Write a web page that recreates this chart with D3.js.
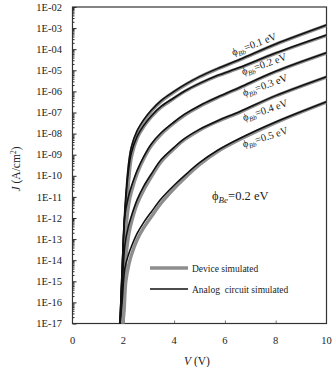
<!DOCTYPE html>
<html>
<head>
<meta charset="utf-8">
<script src="https://cdn.jsdelivr.net/npm/d3@7"></script>
<style>
  body { margin: 0; background: #fff; }
  svg text, svg tspan { font-family: "Liberation Serif", "Times New Roman", serif; fill: #222; }
</style>
</head>
<body>
<div class="graphic"></div>
<script>
// voltage grid (V) shared by the curves
var vAnalog = [1.87, 1.95, 2.06, 2.2, 2.32, 2.55, 2.8, 3.11, 3.5, 4.0, 4.42, 5.0, 5.7, 6.6, 8.0, 10];
var vDevice = [1.98, 2.03, 2.1, 2.22, 2.32, 2.55, 2.8, 3.11, 3.5, 4.0, 4.42, 5.0, 5.7, 6.6, 8.0, 10];

// log10 J (A/cm2), analog circuit simulated
var analog01 = [-17, -14.5, -11.6, -9.5, -8.62, -7.85, -7.35, -6.88, -6.42, -6.0, -5.68, -5.3, -4.92, -4.48, -3.75, -2.85];
var analog02 = [-17, -14.6, -11.8, -9.8, -8.9, -8.12, -7.62, -7.15, -6.7, -6.3, -5.98, -5.62, -5.25, -4.86, -4.18, -3.33];
var analog03 = [-17, -14.8, -11.9, -11.0, -10.5, -9.73, -9.1, -8.48, -7.95, -7.45, -7.08, -6.68, -6.28, -5.8, -5.05, -4.17];
var analog04 = [-17, -15.5, -13.3, -12.4, -11.9, -11.12, -10.5, -9.9, -9.22, -8.65, -8.23, -7.8, -7.4, -6.95, -6.2, -5.3];
var analog05 = [-17, -16.0, -14.4, -13.75, -13.35, -12.72, -12.22, -11.7, -11.08, -10.45, -9.98, -9.38, -8.8, -8.22, -7.45, -6.49];

// log10 J (A/cm2), device simulated
var device01 = [-17, -14.6, -12.0, -9.8, -8.8, -7.95, -7.42, -6.93, -6.46, -6.03, -5.71, -5.32, -4.94, -4.5, -3.77, -2.87];
var device02 = [-17, -14.8, -12.2, -10.1, -9.1, -8.2, -7.68, -7.2, -6.74, -6.33, -6.0, -5.64, -5.27, -4.88, -4.2, -3.35];
var device03 = [-17, -15.2, -12.6, -11.3, -10.75, -9.88, -9.2, -8.56, -8.02, -7.5, -7.12, -6.71, -6.3, -5.82, -5.07, -4.19];
var device04 = [-17, -15.8, -13.9, -12.75, -12.2, -11.32, -10.68, -10.04, -9.32, -8.72, -8.28, -7.84, -7.43, -6.98, -6.22, -5.32];
var device05 = [-17, -16.4, -15.0, -14.2, -13.75, -13.02, -12.47, -11.93, -11.28, -10.6, -10.1, -9.47, -8.86, -8.27, -7.48, -6.51];

var barriers = ['0.1', '0.2', '0.3', '0.4', '0.5'];
var yTickExps = [-2, -3, -4, -5, -6, -7, -8, -9, -10, -11, -12, -13, -14, -15, -16, -17];
var xTicks = [0, 2, 4, 6, 8, 10];

var width = 334, height = 367;
var plot = { left: 72.5, right: 326.5, top: 7, bottom: 323.5 };

var svg = d3.select('.graphic').append('svg').attr('width', width).attr('height', height);

var x = d3.scaleLinear().domain([0, 10]).range([plot.left, plot.right]);
var y = d3.scaleLog().domain([1e-17, 1e-2]).range([plot.bottom, plot.top]);

svg.append('clipPath').attr('id', 'clip')
	.append('rect')
	.attr('x', plot.left).attr('y', plot.top)
	.attr('width', plot.right - plot.left).attr('height', plot.bottom - plot.top);

// y axis: major ticks with labels, minor ticks inside
var yAxis = d3.axisRight(y)
	.tickValues(yTickExps.map(function (e) { return Math.pow(10, e); }))
	.tickSize(4)
	.tickFormat('');
svg.append('g').attr('class', 'y-axis')
	.attr('transform', 'translate(' + plot.left + ',0)')
	.call(yAxis)
	.call(function (g) { g.select('.domain').remove(); });

var minor = [];
yTickExps.forEach(function (e) {
	if (e === -2) return;
	for (var m = 2; m < 10; m++) minor.push(m * Math.pow(10, e));
});
svg.append('g').attr('class', 'y-minor')
	.attr('transform', 'translate(' + plot.left + ',0)')
	.call(d3.axisRight(y).tickValues(minor).tickSize(2).tickFormat(''))
	.call(function (g) { g.select('.domain').remove(); });

svg.selectAll('.y-axis line, .y-minor line').attr('stroke', '#222');

svg.append('g').selectAll('text')
	.data(yTickExps)
	.enter().append('text')
	.attr('x', 62)
	.attr('y', function (d) { return y(Math.pow(10, d)) + 3.6; })
	.attr('text-anchor', 'end')
	.style('font-size', '10.5px')
	.text(function (d) { return '1E-' + (-d < 10 ? '0' : '') + (-d); });

// x axis: small ticks pointing up, labels below
svg.append('g').attr('class', 'x-axis')
	.attr('transform', 'translate(0,' + plot.bottom + ')')
	.call(d3.axisTop(x).tickValues(xTicks.slice(1, -1)).tickSize(3).tickFormat(''))
	.call(function (g) { g.select('.domain').remove(); })
	.selectAll('line').attr('stroke', '#777');

svg.append('g').selectAll('text')
	.data(xTicks)
	.enter().append('text')
	.attr('x', function (d) { return x(d); })
	.attr('y', 344)
	.attr('text-anchor', 'middle')
	.style('font-size', '10.5px')
	.text(function (d) { return d; });

// frame
svg.append('rect')
	.attr('x', plot.left).attr('y', plot.top)
	.attr('width', plot.right - plot.left).attr('height', plot.bottom - plot.top)
	.attr('fill', 'none').attr('stroke', '#333').attr('stroke-width', 1.2);

// curves
var line = d3.line()
	.x(function (d) { return x(d[0]); })
	.y(function (d) { return y(Math.pow(10, d[1])); })
	.curve(d3.curveCatmullRom.alpha(0.5));

var deviceSets = [device01, device02, device03, device04, device05];
var analogSets = [analog01, analog02, analog03, analog04, analog05];

var curveG = svg.append('g').attr('clip-path', 'url(#clip)');
curveG.selectAll('.device')
	.data(deviceSets)
	.enter().append('path')
	.attr('class', 'device')
	.attr('d', function (d) { return line(d3.zip(vDevice, d)); })
	.attr('fill', 'none').attr('stroke', '#8e8e8e').attr('stroke-width', 3.4);
curveG.selectAll('.analog')
	.data(analogSets)
	.enter().append('path')
	.attr('class', 'analog')
	.attr('d', function (d) { return line(d3.zip(vAnalog, d)); })
	.attr('fill', 'none').attr('stroke', '#111').attr('stroke-width', 1.6);

// barrier labels along the curves
var labelPos = [[254, 44, -21], [264, 64, -19.5], [265, 85, -20], [265, 110, -19], [265, 137, -18]];
barriers.forEach(function (b, i) {
	var p = labelPos[i];
	var t = svg.append('text')
		.attr('transform', 'translate(' + p[0] + ',' + p[1] + ') rotate(' + p[2] + ')')
		.attr('text-anchor', 'middle')
		.attr('dy', '0.35em')
		.style('font-size', '10.5px');
	t.append('tspan').text('\u03d5');
	t.append('tspan').attr('dy', 2.5).style('font-size', '7px').style('font-style', 'italic').text('Bb');
	t.append('tspan').attr('dy', -2.5).text('=' + b + ' eV');
});

// phi_Be annotation
var ann = svg.append('text').attr('x', 212).attr('y', 200).style('font-size', '12.5px');
ann.append('tspan').text('\u03d5');
ann.append('tspan').attr('dy', 3).style('font-size', '9px').style('font-style', 'italic').text('Be');
ann.append('tspan').attr('dy', -3).text('=0.2 eV');

// legend
var legend = [
	{ label: 'Device simulated', color: '#8e8e8e', w: 3.4, yy: 268 },
	{ label: 'Analog  circuit simulated', color: '#111', w: 1.6, yy: 289 }
];
var lg = svg.append('g').selectAll('g').data(legend).enter().append('g');
lg.append('line')
	.attr('x1', 150).attr('x2', 188)
	.attr('y1', function (d) { return d.yy; }).attr('y2', function (d) { return d.yy; })
	.attr('stroke', function (d) { return d.color; })
	.attr('stroke-width', function (d) { return d.w; });
lg.append('text')
	.attr('x', 192)
	.attr('y', function (d) { return d.yy + 3.5; })
	.style('font-size', '9.5px')
	.style('white-space', 'pre')
	.attr('xml:space', 'preserve')
	.text(function (d) { return d.label; });

// axis titles
var xt = svg.append('text').attr('x', 197).attr('y', 365).attr('text-anchor', 'middle').style('font-size', '11.5px');
xt.append('tspan').style('font-style', 'italic').text('V');
xt.append('tspan').text(' (V)');

var yt = svg.append('text')
	.attr('transform', 'translate(20,169) rotate(-90)')
	.attr('text-anchor', 'middle')
	.style('font-size', '11.5px');
yt.append('tspan').style('font-style', 'italic').text('J');
yt.append('tspan').text(' (A/cm');
yt.append('tspan').attr('dy', -4).style('font-size', '7.5px').text('2');
yt.append('tspan').attr('dy', 4).text(')');
</script>
</body>
</html>
